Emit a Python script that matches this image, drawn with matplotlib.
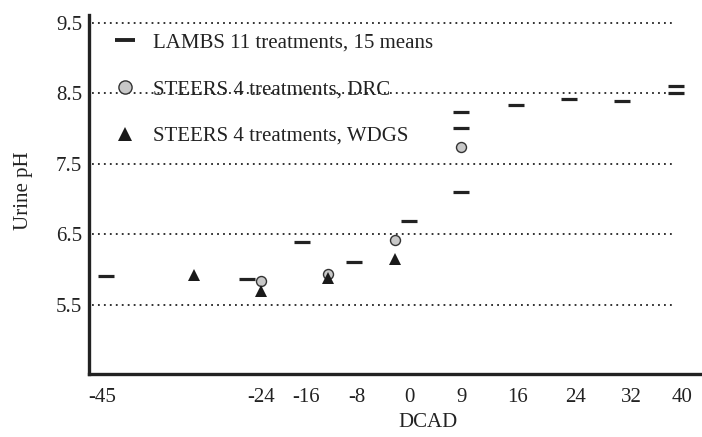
import matplotlib
matplotlib.use("Agg")
import matplotlib.pyplot as plt
from matplotlib.lines import Line2D
import numpy as np

# dados
lambs_dcad = [-44.4, -25.8, -16.7, -8.4, 0, 9, 9, 9, 15.8, 23.2, 30.7, 39.1, 39.1]
lambs_ph = [5.91, 5.86, 6.39, 6.11, 6.69, 8.23, 8.01, 7.10, 8.34, 8.42, 8.39, 8.60, 8.50]

drc_dcad = [-24, -12.6, -2.2, 9]
drc_ph = [5.84, 5.94, 6.42, 7.74]

wdgs_dcad = [-32.9, -24, -12.6, -2.1]
wdgs_ph = [5.93, 5.69, 5.88, 6.15]

tick_dcad = [-45, -24, -16, -8, 0, 9, 16, 24, 32, 40]
tick_labels = ['-45', '-24', '-16', '-8', '0', '9', '16', '24', '32', '40']
yticks = [5.5, 6.5, 7.5, 8.5, 9.5]

# eixo x nao linear: posicao de cada rotulo no eixo
tick_pos = [102, 261, 306, 357, 409, 461, 517, 575, 631, 682]
ext_dcad = [-60] + tick_dcad + [60]
ext_pos = [102 - 15 * 7.571] + tick_pos + [682 + 20 * 6.375]


def fwd(x):
    return np.interp(x, ext_dcad, ext_pos)


def inv(p):
    return np.interp(p, ext_pos, ext_dcad)


plt.rcParams['font.family'] = ['Liberation Serif', 'DejaVu Serif']

fig = plt.figure(figsize=(7.02, 4.37), dpi=100)
ax = fig.add_axes([89 / 702, 63 / 437, 613 / 702, 359 / 437])
ax.set_xscale('function', functions=(fwd, inv))
ax.set_xlim(-46.7, 43.1)
ax.set_ylim(4.52, 9.61)

for y in yticks:
    ax.axhline(y, xmin=0.005, xmax=0.956, color='#222222', lw=1.3,
               ls=(0, (1, 2.3)), zorder=1)

ax.plot(lambs_dcad, lambs_ph, ls='none', marker='_', ms=11.5, mew=2.3,
        color='#222222', zorder=3)
ax.plot(drc_dcad, drc_ph, ls='none', marker='o', ms=7.2, mew=1.0,
        mfc='#c8c8c8', mec='#333333', zorder=4)
ax.plot(wdgs_dcad, wdgs_ph, ls='none', marker='^', ms=9, mew=0,
        color='#1a1a1a', zorder=5)

handles = [
    Line2D([], [], ls='none', marker='_', ms=14.5, mew=2.8, color='#222222'),
    Line2D([], [], ls='none', marker='o', ms=9.5, mew=1.0, mfc='#c8c8c8', mec='#333333'),
    Line2D([], [], ls='none', marker='^', ms=10, mew=0, color='#1a1a1a'),
]
labels = ['LAMBS 11 treatments, 15 means', 'STEERS 4 treatments, DRC',
          'STEERS 4 treatments, WDGS']
ax.legend(handles, labels, loc='upper left', bbox_to_anchor=(0.035, 0.95),
          frameon=False, fontsize=15, borderpad=0, borderaxespad=0,
          handlelength=1.4, handletextpad=0.64, labelspacing=1.3,
          labelcolor='#222222')

ax.set_xticks(tick_dcad)
ax.set_xticklabels(tick_labels)
ax.set_yticks(yticks)
ax.set_yticklabels([str(v) for v in yticks])
ax.tick_params(axis='both', length=0, labelsize=15, colors='#222222')
ax.tick_params(axis='x', pad=10)
ax.tick_params(axis='y', pad=5)
ax.minorticks_off()

for s in ['top', 'right']:
    ax.spines[s].set_visible(False)
for s in ['left', 'bottom']:
    ax.spines[s].set_linewidth(2.4)
    ax.spines[s].set_color('#222222')

ax.set_xlabel('DCAD', fontsize=15, color='#222222')
ax.set_ylabel('Urine pH', fontsize=15, color='#222222')
ax.xaxis.set_label_coords(0.553, -0.11)
ax.yaxis.set_label_coords(-0.0914, 0.51)

fig.savefig('out.png', dpi=100)
